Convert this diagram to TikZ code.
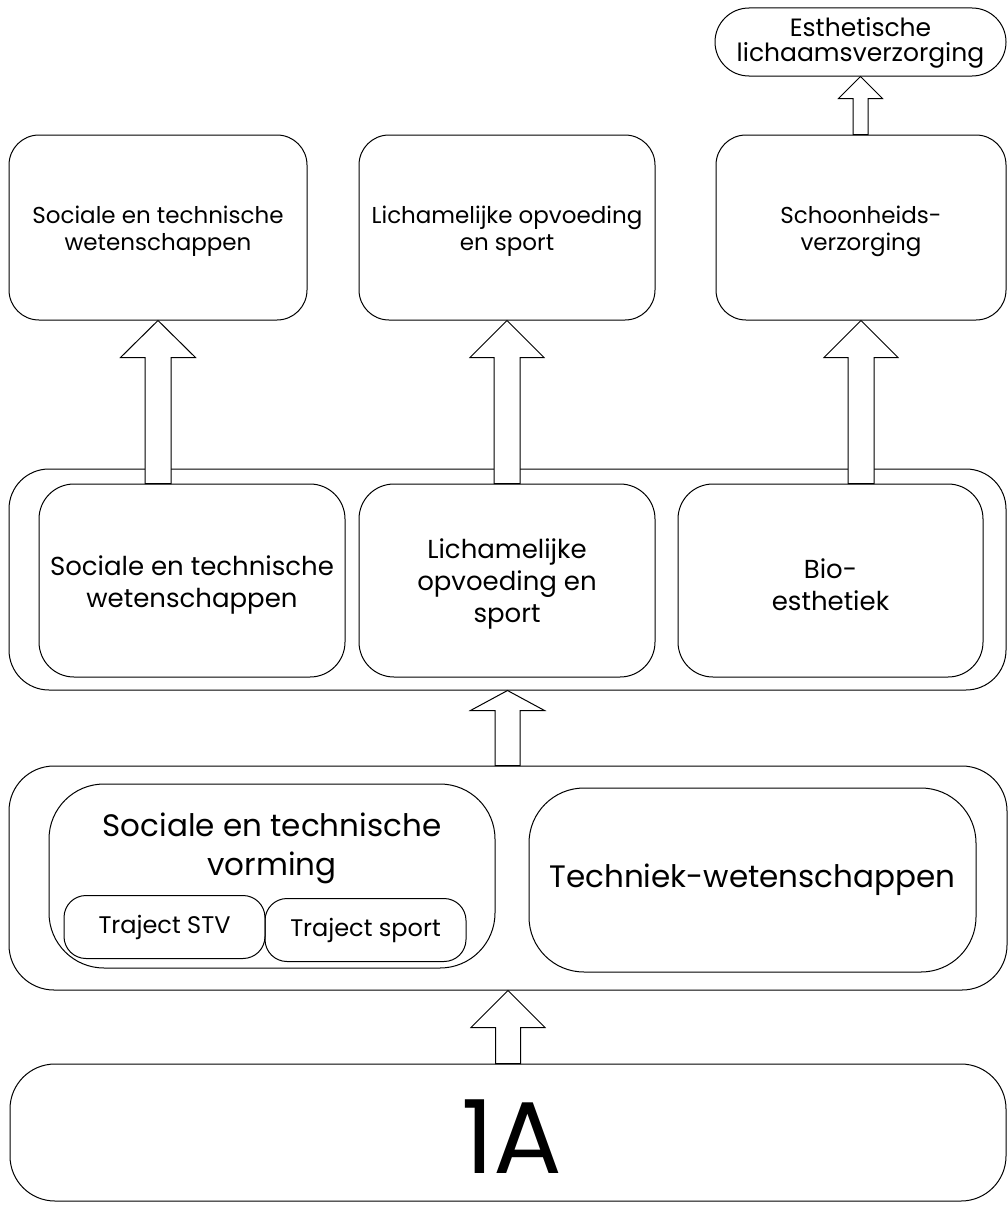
\documentclass[tikz,border=0pt]{standalone}
\usepackage{fontspec}
\setmainfont{Poppins}
\usetikzlibrary{calc}
\tikzset{
  box/.style={draw, line width=1pt, rounded corners=#1, inner sep=0pt, align=center},
  box/.default=30pt,
  lbl/.style={inner sep=0pt, align=center},
  blk/.style={draw, line width=1pt, fill=white, line join=miter},
}
\newcommand{\fs}[2]{\fontsize{#1}{#2}\selectfont}
% #1 from (bottom), #2 to (tip), #3 shaft half width, #4 head half width, #5 head length
\newcommand{\blkarrow}[5]{%
  \draw[blk] let \p1=(#1), \p2=(#2) in
    (\x2-#3pt,\y1) -- (\x2-#3pt,\y2-#5pt) -- (\x2-#4pt,\y2-#5pt) -- (\x2,\y2)
    -- (\x2+#4pt,\y2-#5pt) -- (\x2+#3pt,\y2-#5pt) -- (\x2+#3pt,\y1) -- cycle;}
\begin{document}
\begin{tikzpicture}[x=1pt,y=-1pt]
\useasboundingbox (0,0) rectangle (1008,1207);
% top row
\node[box=34pt, minimum width=291pt, minimum height=68pt] (pill) at (860.5,42) {};
\node[lbl, font=\fs{25}{25}] (pillt) at ($(pill.center)+(0,1)$) {Esthetische\\lichaamsverzorging};
\node[box, minimum width=298pt, minimum height=185pt] (t1) at (158,227.5) {};
\node[box, minimum width=296pt, minimum height=185pt] (t2) at (507,227.5) {};
\node[box, minimum width=290pt, minimum height=185pt] (t3) at (861,227.5) {};
\node[lbl, font=\fs{23}{27}] (t1t) at ($(t1.center)+(0,4)$) {Sociale en technische\\wetenschappen};
\node[lbl, font=\fs{23}{27}] (t2t) at ($(t2.center)+(0,4)$) {Lichamelijke opvoeding\\en sport};
\node[lbl, font=\fs{23}{27}] (t3t) at ($(t3.center)+(0,4)$) {Schoonheids-\\verzorging};
% middle row
\node[box=40pt, minimum width=997pt, minimum height=221pt] (M) at (507.5,579.5) {};
\node[box=35pt, minimum width=306pt, minimum height=193pt] (m1) at (192,580.5) {};
\node[box=35pt, minimum width=296pt, minimum height=193pt] (m2) at (507,580.5) {};
\node[box=35pt, minimum width=305pt, minimum height=193pt] (m3) at (830.5,580.5) {};
\node[lbl, font=\fs{26}{32}] (m1t) at ($(m1.center)+(0,4)$) {Sociale en technische\\wetenschappen};
\node[lbl, font=\fs{26}{32}] (m2t) at ($(m2.center)+(0,3)$) {Lichamelijke\\opvoeding en\\sport};
\node[lbl, font=\fs{26}{32}] (m3t) at ($(m3.center)+(0,4)$) {Bio-\\esthetiek};
% lower row
\node[box=45pt, minimum width=998pt, minimum height=224pt] (L) at (508,878) {};
\node[box=55pt, minimum width=446pt, minimum height=184pt] (v) at (272,876) {};
\node[lbl, font=\fs{31}{39}] (vt) at (272,848) {Sociale en technische\\vorming};
\node[box=22pt, minimum width=201pt, minimum height=63pt, font=\fs{24}{28}] (stv) at (164.5,927)
  {Traject STV};
\node[box=22pt, minimum width=201pt, minimum height=63pt, font=\fs{24}{28}] (sp) at (365.5,930)
  {Traject sport};
\node[box=55pt, minimum width=447pt, minimum height=184pt, font=\fs{31}{36}] (tw) at (752.5,880)
  {Techniek-wetenschappen};
% bottom
\node[box=45pt, minimum width=996pt, minimum height=137pt] (A) at (508,1132.5) {};
\node[lbl, font=\fs{102}{110}] (At) at ($(A.center)+(4,4)$) {1A};
% block arrows
\blkarrow{t3.north}{pill.south}{7.5}{22}{22}
\blkarrow{m1.north}{t1.south}{13}{37.5}{37}
\blkarrow{m2.north}{t2.south}{13}{37}{37}
\blkarrow{m3.north}{t3.south}{13}{37}{37}
\blkarrow{L.north}{M.south}{12.5}{37}{20}
\blkarrow{A.north}{L.south}{12.5}{37}{37}
\end{tikzpicture}
\end{document}
